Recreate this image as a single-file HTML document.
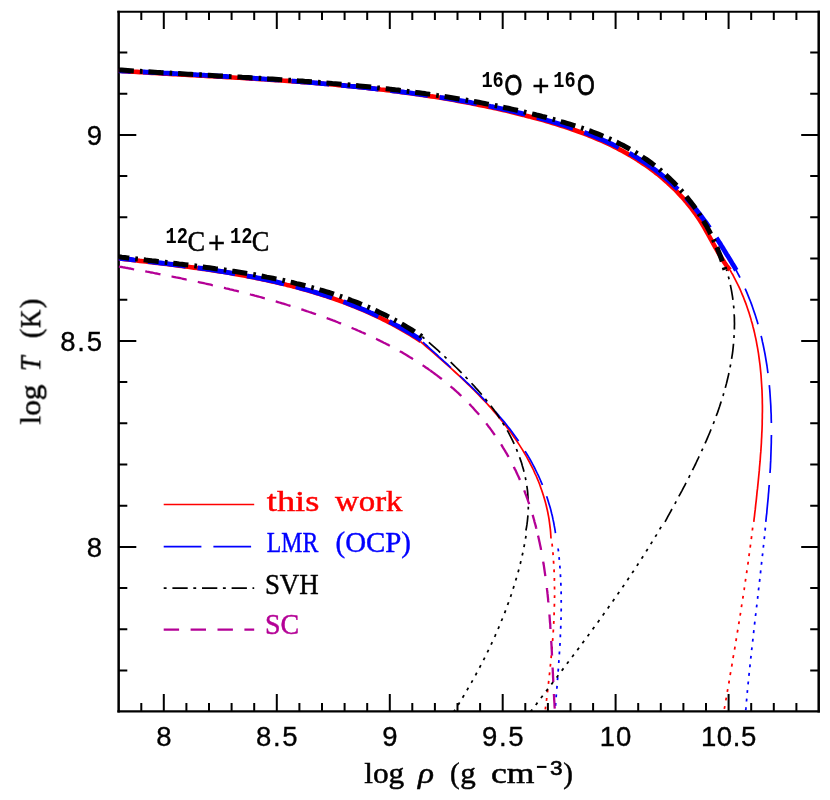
<!DOCTYPE html>
<html><head><meta charset="utf-8"><title>Ignition curves</title>
<style>
html,body{margin:0;padding:0;background:#fff;}
body{width:830px;height:800px;overflow:hidden;font-family:"Liberation Sans",sans-serif;}
svg{display:block;}
</style></head><body>
<svg width="830" height="800" viewBox="0 0 830 800">
<rect width="830" height="800" fill="#fff"/>
<g id="frame">
<path d="M118.65,10.75 V712.6 M818.7,10.75 V712.6" fill="none" stroke="#000" stroke-width="2.5"/>
<path d="M117.4,11.75 H819.95" fill="none" stroke="#000" stroke-width="2.0"/>
<path d="M117.4,711.45 H819.95" fill="none" stroke="#000" stroke-width="2.3"/>
<path d="M141.3,711.6 v-8.6 M141.3,11.5 v8.6 M163.8,711.6 v-17.6 M163.8,11.5 v17.6 M186.4,711.6 v-8.6 M186.4,11.5 v8.6 M209.0,711.6 v-8.6 M209.0,11.5 v8.6 M231.6,711.6 v-8.6 M231.6,11.5 v8.6 M254.2,711.6 v-8.6 M254.2,11.5 v8.6 M276.8,711.6 v-17.6 M276.8,11.5 v17.6 M299.4,711.6 v-8.6 M299.4,11.5 v8.6 M322.0,711.6 v-8.6 M322.0,11.5 v8.6 M344.6,711.6 v-8.6 M344.6,11.5 v8.6 M367.2,711.6 v-8.6 M367.2,11.5 v8.6 M389.8,711.6 v-17.6 M389.8,11.5 v17.6 M412.3,711.6 v-8.6 M412.3,11.5 v8.6 M434.9,711.6 v-8.6 M434.9,11.5 v8.6 M457.5,711.6 v-8.6 M457.5,11.5 v8.6 M480.1,711.6 v-8.6 M480.1,11.5 v8.6 M502.7,711.6 v-17.6 M502.7,11.5 v17.6 M525.3,711.6 v-8.6 M525.3,11.5 v8.6 M547.9,711.6 v-8.6 M547.9,11.5 v8.6 M570.5,711.6 v-8.6 M570.5,11.5 v8.6 M593.1,711.6 v-8.6 M593.1,11.5 v8.6 M615.6,711.6 v-17.6 M615.6,11.5 v17.6 M638.2,711.6 v-8.6 M638.2,11.5 v8.6 M660.8,711.6 v-8.6 M660.8,11.5 v8.6 M683.4,711.6 v-8.6 M683.4,11.5 v8.6 M706.0,711.6 v-8.6 M706.0,11.5 v8.6 M728.6,711.6 v-17.6 M728.6,11.5 v17.6 M751.2,711.6 v-8.6 M751.2,11.5 v8.6 M773.8,711.6 v-8.6 M773.8,11.5 v8.6 M796.4,711.6 v-8.6 M796.4,11.5 v8.6 M118.7,670.5 h8.6 M818.8,670.5 h-8.6 M118.7,629.3 h8.6 M818.8,629.3 h-8.6 M118.7,588.1 h8.6 M818.8,588.1 h-8.6 M118.7,546.9 h17.6 M818.8,546.9 h-17.6 M118.7,505.7 h8.6 M818.8,505.7 h-8.6 M118.7,464.5 h8.6 M818.8,464.5 h-8.6 M118.7,423.3 h8.6 M818.8,423.3 h-8.6 M118.7,382.1 h8.6 M818.8,382.1 h-8.6 M118.7,340.9 h17.6 M818.8,340.9 h-17.6 M118.7,299.7 h8.6 M818.8,299.7 h-8.6 M118.7,258.5 h8.6 M818.8,258.5 h-8.6 M118.7,217.3 h8.6 M818.8,217.3 h-8.6 M118.7,176.1 h8.6 M818.8,176.1 h-8.6 M118.7,134.9 h17.6 M818.8,134.9 h-17.6 M118.7,93.7 h8.6 M818.8,93.7 h-8.6 M118.7,52.5 h8.6 M818.8,52.5 h-8.6" fill="none" stroke="#000" stroke-width="2"/>
</g>
<g id="curves">
<path d="M118.9,258.5 L121.9,258.8 L124.8,259.2 L127.8,259.5 L130.8,259.8 L133.8,260.2 L136.8,260.5 L139.8,260.9 L142.8,261.2 L145.8,261.5 L148.8,261.9 L151.8,262.2 L154.8,262.6 L157.8,263.0 L160.8,263.3 L163.8,263.7 L166.8,264.0 L169.9,264.4 L172.9,264.8 L175.9,265.2 L178.9,265.6 L181.9,266.0 L184.9,266.4 L188.0,266.8 L191.0,267.2 L194.0,267.6 L197.0,268.0 L200.1,268.4 L203.1,268.9 L206.1,269.3 L209.1,269.8 L212.1,270.2 L215.2,270.7 L218.2,271.2 L221.2,271.6 L224.2,272.1 L227.2,272.6 L230.2,273.1 L233.2,273.7 L236.3,274.2 L239.3,274.7 L242.3,275.3 L245.3,275.8 L248.3,276.4 L251.3,277.0 L254.3,277.6 L257.3,278.2 L260.2,278.8 L263.2,279.4 L266.2,280.1 L269.2,280.7 L272.2,281.4 L275.1,282.0 L278.1,282.7 L281.1,283.4 L284.0,284.1 L287.0,284.9 L289.9,285.6 L292.9,286.4 L295.8,287.1 L298.8,287.9 L301.7,288.7 L304.6,289.6 L307.5,290.4 L310.5,291.2 L313.4,292.1 L316.3,293.0 L319.2,293.9 L322.1,294.8 L325.0,295.7 L327.8,296.7 L330.7,297.6 L333.6,298.6 L336.4,299.6 L339.3,300.6 L342.1,301.7 L345.0,302.7 L347.8,303.8 L350.6,304.9 L353.4,306.0 L356.2,307.2 L359.0,308.3 L361.8,309.5 L364.6,310.7 L367.4,311.9 L370.2,313.1 L372.9,314.4 L375.7,315.7 L378.4,317.0 L381.1,318.3 L383.9,319.7 L386.6,321.0 L389.3,322.4 L392.0,323.8 L394.6,325.3 L397.3,326.7 L400.0,328.2 L402.6,329.7 L405.3,331.2 L407.9,332.8 L410.5,334.4 L413.1,336.0 L415.7,337.6 L418.3,339.3 L420.9,341.0" fill="none" stroke="#ff0000" stroke-width="4.6" stroke-linecap="butt" stroke-linejoin="round"/>
<path d="M420.5,341.7 L422.8,343.6 L425.0,345.5 L427.3,347.5 L429.5,349.4 L431.8,351.4 L434.1,353.3 L436.3,355.3 L438.6,357.3 L440.9,359.3 L443.2,361.3 L445.4,363.3 L447.7,365.3 L450.0,367.4 L452.2,369.4 L454.5,371.5 L456.7,373.5 L459.0,375.6 L461.2,377.7 L463.4,379.8 L465.6,381.9 L467.8,384.1 L470.0,386.2 L472.2,388.4 L474.4,390.5 L476.5,392.7 L478.7,394.9 L480.8,397.1 L482.9,399.3 L485.0,401.5 L487.1,403.8 L489.2,406.1 L491.2,408.3 L493.2,410.6 L495.2,412.9 L497.2,415.3 L499.1,417.6 L501.1,419.9 L503.0,422.3 L504.9,424.7 L506.7,427.1 L508.6,429.5 L510.4,431.9 L512.2,434.4 L513.9,436.9 L515.6,439.3 L517.3,441.8 L519.0,444.4 L520.6,446.9 L522.2,449.4 L523.8,452.0 L525.3,454.6 L526.8,457.2 L528.2,459.8 L529.7,462.5 L531.0,465.1 L532.4,467.8 L533.7,470.5 L534.9,473.3 L536.2,476.0 L537.4,478.8 L538.5,481.5 L539.6,484.3 L540.6,487.2 L541.6,490.0 L542.6,492.9 L543.5,495.8 L544.4,498.7 L545.2,501.6 L546.0,504.5 L546.7,507.5 L547.4,510.5 L548.0,513.5 L548.6,516.6 L549.1,519.6 L549.5,522.7 L549.9,525.8 L550.3,529.0 L550.6,532.1 L550.8,535.3 L551.0,538.5" fill="none" stroke="#ff0000" stroke-width="1.7" stroke-linecap="butt" stroke-linejoin="round"/>
<path d="M551.4,538.0 L551.7,541.0 L552.1,544.1 L552.4,547.1 L552.7,550.2 L553.0,553.2 L553.2,556.2 L553.4,559.3 L553.6,562.3 L553.8,565.4 L554.0,568.4 L554.1,571.5 L554.3,574.5 L554.4,577.6 L554.4,580.6 L554.5,583.7 L554.5,586.7 L554.6,589.8 L554.6,592.8 L554.6,595.9 L554.5,598.9 L554.5,602.0 L554.4,605.0 L554.3,608.1 L554.2,611.1 L554.1,614.2 L554.0,617.3 L553.9,620.3 L553.7,623.4 L553.6,626.4 L553.4,629.5 L553.2,632.5 L553.0,635.6 L552.8,638.6 L552.5,641.7 L552.3,644.7 L552.0,647.8 L551.8,650.8 L551.5,653.8 L551.2,656.9 L550.9,659.9 L550.7,663.0 L550.3,666.0 L550.0,669.1 L549.7,672.1 L549.4,675.1 L549.1,678.2 L548.7,681.2 L548.4,684.2 L548.0,687.3 L547.7,690.3 L547.3,693.3 L546.9,696.4 L546.6,699.4 L546.2,702.4 L545.8,705.5 L545.4,708.5 L545.1,711.5" fill="none" stroke="#ff0000" stroke-width="1.75" stroke-dasharray="2.9 5.7" stroke-dashoffset="2.9" stroke-linecap="butt" stroke-linejoin="round"/>
<path d="M118.9,258.2 L121.8,258.6 L124.8,258.9 L127.8,259.2 L130.8,259.5 L133.8,259.9 L136.8,260.2 L139.8,260.5 L142.8,260.9 L145.8,261.2 L148.8,261.6 L151.8,261.9 L154.8,262.3 L157.8,262.6 L160.8,263.0 L163.9,263.4 L166.9,263.7 L169.9,264.1 L172.9,264.5 L175.9,264.8 L179.0,265.2 L182.0,265.6 L185.0,266.0 L188.0,266.4 L191.0,266.8 L194.1,267.2 L197.1,267.7 L200.1,268.1 L203.1,268.5 L206.1,269.0 L209.2,269.4 L212.2,269.9 L215.2,270.3 L218.2,270.8 L221.2,271.3 L224.3,271.8 L227.3,272.3 L230.3,272.8 L233.3,273.3 L236.3,273.8 L239.3,274.4 L242.3,274.9 L245.3,275.5 L248.3,276.1 L251.3,276.6 L254.3,277.2 L257.3,277.8 L260.3,278.4 L263.3,279.1 L266.2,279.7 L269.2,280.4 L272.2,281.0 L275.2,281.7 L278.1,282.4 L281.1,283.1 L284.1,283.8 L287.0,284.5 L290.0,285.3 L292.9,286.0 L295.9,286.8 L298.8,287.6 L301.7,288.4 L304.7,289.2 L307.6,290.0 L310.5,290.8 L313.4,291.7 L316.3,292.6 L319.2,293.5 L322.1,294.4 L325.0,295.3 L327.9,296.3 L330.8,297.2 L333.6,298.2 L336.5,299.2 L339.4,300.2 L342.2,301.2 L345.1,302.3 L347.9,303.3 L350.7,304.4 L353.5,305.5 L356.4,306.7 L359.2,307.8 L362.0,309.0 L364.8,310.1 L367.5,311.3 L370.3,312.6 L373.1,313.8 L375.8,315.1 L378.6,316.4 L381.3,317.7 L384.1,319.0 L386.8,320.3 L389.5,321.7 L392.2,323.1 L394.9,324.5 L397.6,326.0 L400.3,327.4 L402.9,328.9 L405.6,330.4 L408.2,332.0 L410.9,333.5 L413.5,335.1 L416.1,336.7 L418.7,338.3 L421.3,340.0" fill="none" stroke="#0000ff" stroke-width="4.8" stroke-dasharray="38 12" stroke-dashoffset="20.71" stroke-linecap="butt" stroke-linejoin="round"/>
<path d="M421.1,340.4 L423.3,342.4 L425.5,344.5 L427.8,346.5 L430.0,348.6 L432.2,350.6 L434.5,352.7 L436.8,354.7 L439.0,356.8 L441.3,358.8 L443.5,360.9 L445.8,362.9 L448.1,365.0 L450.3,367.1 L452.6,369.2 L454.9,371.2 L457.1,373.3 L459.4,375.4 L461.6,377.5 L463.9,379.7 L466.1,381.8 L468.4,383.9 L470.6,386.0 L472.8,388.2 L475.0,390.3 L477.2,392.5 L479.4,394.7 L481.5,396.9 L483.7,399.1 L485.8,401.3 L487.9,403.5 L490.0,405.8 L492.1,408.0 L494.2,410.3 L496.2,412.6 L498.2,414.9 L500.2,417.2 L502.2,419.6 L504.2,421.9 L506.1,424.3 L508.0,426.7 L509.9,429.1 L511.7,431.5 L513.5,434.0 L515.3,436.4 L517.1,438.9 L518.8,441.4 L520.5,444.0 L522.2,446.5 L523.8,449.1 L525.4,451.6 L527.0,454.2 L528.6,456.9 L530.1,459.5 L531.6,462.2 L533.0,464.8 L534.4,467.5 L535.8,470.3 L537.1,473.0 L538.4,475.7 L539.7,478.5 L540.9,481.3 L542.1,484.1 L543.2,487.0 L544.3,489.8 L545.4,492.7 L546.4,495.6 L547.4,498.5 L548.3,501.4 L549.2,504.4 L550.1,507.3 L550.9,510.3 L551.6,513.3 L552.4,516.3 L553.0,519.4 L553.7,522.5 L554.2,525.5 L554.8,528.6 L555.3,531.8 L555.7,534.9" fill="none" stroke="#0000ff" stroke-width="1.7" stroke-dasharray="38 12" stroke-dashoffset="47.5" stroke-linecap="butt" stroke-linejoin="round"/>
<path d="M558.1,548.5 L558.5,551.5 L558.8,554.6 L559.1,557.7 L559.4,560.7 L559.7,563.8 L559.9,566.9 L560.2,569.9 L560.4,573.0 L560.5,576.1 L560.7,579.2 L560.8,582.2 L560.9,585.3 L561.0,588.4 L561.1,591.5 L561.2,594.6 L561.2,597.6 L561.2,600.7 L561.2,603.8 L561.2,606.9 L561.2,610.0 L561.1,613.0 L561.1,616.1 L561.0,619.2 L560.9,622.3 L560.8,625.4 L560.7,628.5 L560.6,631.5 L560.4,634.6 L560.3,637.7 L560.1,640.8 L560.0,643.9 L559.8,646.9 L559.6,650.0 L559.4,653.1 L559.2,656.2 L559.0,659.3 L558.8,662.3 L558.6,665.4 L558.4,668.5 L558.1,671.6 L557.9,674.7 L557.7,677.7 L557.4,680.8 L557.2,683.9 L557.0,687.0 L556.7,690.0 L556.5,693.1 L556.2,696.2 L556.0,699.2 L555.8,702.3 L555.5,705.4 L555.3,708.4 L555.1,711.5" fill="none" stroke="#0000ff" stroke-width="1.75" stroke-dasharray="2.9 5.7" stroke-dashoffset="0" stroke-linecap="butt" stroke-linejoin="round"/>
<path d="M118.9,256.8 L121.9,257.2 L124.8,257.5 L127.8,257.9 L130.8,258.3 L133.8,258.6 L136.8,259.0 L139.8,259.3 L142.8,259.7 L145.8,260.1 L148.8,260.4 L151.8,260.8 L154.9,261.1 L157.9,261.5 L160.9,261.8 L163.9,262.2 L166.9,262.5 L170.0,262.9 L173.0,263.3 L176.0,263.6 L179.1,264.0 L182.1,264.3 L185.1,264.7 L188.2,265.1 L191.2,265.5 L194.2,265.8 L197.3,266.2 L200.3,266.6 L203.3,267.0 L206.4,267.4 L209.4,267.8 L212.4,268.2 L215.5,268.7 L218.5,269.1 L221.5,269.5 L224.6,269.9 L227.6,270.4 L230.6,270.9 L233.7,271.3 L236.7,271.8 L239.7,272.3 L242.7,272.8 L245.8,273.3 L248.8,273.8 L251.8,274.3 L254.8,274.8 L257.8,275.4 L260.8,275.9 L263.8,276.5 L266.8,277.1 L269.8,277.6 L272.8,278.2 L275.8,278.9 L278.8,279.5 L281.8,280.1 L284.8,280.8 L287.7,281.5 L290.7,282.1 L293.7,282.8 L296.6,283.6 L299.6,284.3 L302.5,285.0 L305.5,285.8 L308.4,286.6 L311.4,287.4 L314.3,288.2 L317.2,289.0 L320.1,289.9 L323.0,290.7 L325.9,291.6 L328.8,292.5 L331.7,293.4 L334.6,294.4 L337.5,295.3 L340.3,296.3 L343.2,297.3 L346.1,298.3 L348.9,299.4 L351.7,300.5 L354.6,301.5 L357.4,302.6 L360.2,303.8 L363.0,304.9 L365.8,306.1 L368.6,307.3 L371.4,308.5 L374.1,309.8 L376.9,311.1 L379.6,312.4 L382.4,313.7 L385.1,315.0 L387.8,316.4 L390.5,317.8 L393.2,319.2 L395.9,320.7 L398.6,322.2 L401.3,323.7 L403.9,325.2 L406.6,326.8 L409.2,328.4 L411.8,330.0 L414.4,331.6 L417.0,333.3 L419.6,335.0 L422.2,336.8" fill="none" stroke="#000000" stroke-width="5.0" stroke-dasharray="15.170 6.068 2.643 5.872" stroke-dashoffset="4.8" stroke-linecap="butt" stroke-linejoin="round"/>
<path d="M422.3,336.7 L424.6,338.7 L426.9,340.6 L429.2,342.6 L431.4,344.6 L433.7,346.6 L436.0,348.7 L438.3,350.7 L440.5,352.8 L442.8,354.8 L445.0,356.9 L447.3,359.0 L449.5,361.1 L451.7,363.2 L454.0,365.4 L456.2,367.5 L458.4,369.7 L460.6,371.9 L462.8,374.1 L464.9,376.3 L467.1,378.5 L469.2,380.8 L471.3,383.0 L473.5,385.3 L475.5,387.6 L477.6,389.9 L479.7,392.2 L481.7,394.5 L483.7,396.9 L485.7,399.3 L487.6,401.7 L489.5,404.1 L491.4,406.6 L493.3,409.0 L495.1,411.5 L496.9,414.0 L498.6,416.6 L500.3,419.1 L502.0,421.7 L503.6,424.3 L505.2,426.9 L506.8,429.6 L508.3,432.2 L509.7,434.9 L511.1,437.7 L512.5,440.4 L513.8,443.2 L515.1,445.9 L516.3,448.7 L517.4,451.6 L518.6,454.4 L519.6,457.3 L520.6,460.1 L521.6,463.0 L522.4,465.9 L523.3,468.9 L524.0,471.8 L524.7,474.8 L525.4,477.8 L526.0,480.8 L526.5,483.8 L527.0,486.8 L527.4,489.9 L527.7,492.9 L527.9,496.0 L528.1,499.1 L528.2,502.2 L528.3,505.3 L528.3,508.4 L528.2,511.5 L528.0,514.7 L527.7,517.8 L527.4,521.0 L527.0,524.2 L526.5,527.3 L525.9,530.5" fill="none" stroke="#000000" stroke-width="1.7" stroke-dasharray="15.3 5.6 2.9 5.8" stroke-dashoffset="21" stroke-linecap="butt" stroke-linejoin="round"/>
<path d="M526.9,530.2 L526.4,533.2 L525.9,536.3 L525.4,539.3 L524.9,542.3 L524.3,545.3 L523.7,548.3 L523.1,551.3 L522.5,554.3 L521.8,557.3 L521.1,560.3 L520.4,563.3 L519.6,566.2 L518.9,569.2 L518.1,572.2 L517.2,575.1 L516.4,578.1 L515.5,581.0 L514.7,584.0 L513.7,586.9 L512.8,589.8 L511.9,592.8 L510.9,595.7 L509.9,598.6 L508.9,601.5 L507.8,604.4 L506.8,607.3 L505.7,610.2 L504.6,613.1 L503.4,615.9 L502.3,618.8 L501.1,621.6 L500.0,624.5 L498.8,627.3 L497.6,630.2 L496.3,633.0 L495.1,635.8 L493.8,638.6 L492.5,641.5 L491.2,644.3 L489.9,647.0 L488.6,649.8 L487.2,652.6 L485.8,655.4 L484.5,658.1 L483.1,660.9 L481.6,663.6 L480.2,666.4 L478.8,669.1 L477.3,671.8 L475.9,674.5 L474.4,677.2 L472.9,679.9 L471.4,682.6 L469.8,685.3 L468.3,687.9 L466.8,690.6 L465.2,693.2 L463.7,695.8 L462.1,698.5 L460.5,701.1 L458.9,703.7 L457.3,706.3 L455.7,708.9 L454.0,711.4" fill="none" stroke="#000000" stroke-width="1.75" stroke-dasharray="2.9 5.7" stroke-dashoffset="2.9" stroke-linecap="butt" stroke-linejoin="round"/>
<path d="M118.9,266.5 L120.3,266.8 L121.7,267.0 L123.1,267.3 L124.5,267.5 L125.9,267.8 L127.3,268.0 L128.7,268.3 L130.1,268.5 L131.5,268.8 L132.9,269.1 L134.3,269.3 L135.7,269.6 L137.1,269.8 L138.5,270.1 L139.9,270.4 L141.3,270.6 L142.7,270.9 L144.1,271.1 L145.5,271.4 L146.9,271.7 L148.3,271.9 L149.7,272.2 L151.1,272.5 L152.5,272.7 L153.9,273.0 L155.2,273.3 L156.6,273.5 L158.0,273.8 L159.4,274.1 L160.8,274.3 L162.2,274.6 L163.6,274.9 L165.0,275.1 L166.4,275.4 L167.8,275.7 L169.2,276.0 L170.6,276.2 L171.9,276.5 L173.3,276.8 L174.7,277.1 L176.1,277.4 L177.5,277.6 L178.9,277.9 L180.3,278.2 L181.7,278.5 L183.0,278.8 L184.4,279.1 L185.8,279.4 L187.2,279.6 L188.6,279.9 L190.0,280.2 L191.4,280.5 L192.7,280.8 L194.1,281.1 L195.5,281.4 L196.9,281.7 L198.3,282.0 L199.6,282.3 L201.0,282.6 L202.4,282.9 L203.8,283.2 L205.2,283.5 L206.6,283.8 L207.9,284.1 L209.3,284.4 L210.7,284.7 L212.1,285.1 L213.4,285.4 L214.8,285.7 L216.2,286.0 L217.6,286.3 L219.0,286.6 L220.3,287.0 L221.7,287.3 L223.1,287.6 L224.5,287.9 L225.8,288.3 L227.2,288.6 L228.6,288.9 L230.0,289.3 L231.3,289.6 L232.7,289.9 L234.1,290.3 L235.5,290.6 L236.8,290.9 L238.2,291.3 L239.6,291.6 L241.0,292.0 L242.3,292.3 L243.7,292.7 L245.1,293.0 L246.4,293.4 L247.8,293.7 L249.2,294.1 L250.6,294.5 L251.9,294.8 L253.3,295.2 L254.7,295.6 L256.0,295.9 L257.4,296.3 L258.8,296.7 L260.1,297.0 L261.5,297.4 L262.9,297.8 L264.2,298.2 L265.6,298.5 L267.0,298.9 L268.4,299.3 L269.7,299.7 L271.1,300.1 L272.5,300.5 L273.8,300.9 L275.2,301.3 L276.6,301.7 L277.9,302.1 L279.3,302.5 L280.7,302.9 L282.0,303.3 L283.4,303.7 L284.8,304.1 L286.1,304.5 L287.5,305.0 L288.8,305.4 L290.2,305.8 L291.6,306.2 L292.9,306.7 L294.3,307.1 L295.7,307.5 L297.0,308.0 L298.4,308.4 L299.8,308.8 L301.1,309.3 L302.5,309.7 L303.9,310.2 L305.2,310.6 L306.6,311.1 L307.9,311.5 L309.3,312.0 L310.7,312.4 L312.0,312.9 L313.4,313.4 L314.8,313.8 L316.1,314.3 L317.5,314.8 L318.8,315.3 L320.2,315.7 L321.5,316.2 L322.9,316.7 L324.3,317.2 L325.6,317.7 L327.0,318.2 L328.3,318.7 L329.7,319.2 L331.0,319.7 L332.4,320.2 L333.7,320.7 L335.1,321.2 L336.4,321.7 L337.8,322.3 L339.1,322.8 L340.5,323.3 L341.8,323.8 L343.1,324.4 L344.5,324.9 L345.8,325.5 L347.2,326.0 L348.5,326.5 L349.8,327.1 L351.2,327.7 L352.5,328.2 L353.8,328.8 L355.1,329.3 L356.5,329.9 L357.8,330.5 L359.1,331.0 L360.4,331.6 L361.7,332.2 L363.1,332.8 L364.4,333.4 L365.7,334.0 L367.0,334.6 L368.3,335.2 L369.6,335.8 L370.9,336.4 L372.2,337.0 L373.5,337.6 L374.8,338.2 L376.1,338.8 L377.4,339.5 L378.7,340.1 L380.0,340.7 L381.3,341.4 L382.5,342.0 L383.8,342.7 L385.1,343.3 L386.4,344.0 L387.7,344.6 L388.9,345.3 L390.2,346.0 L391.5,346.6 L392.7,347.3 L394.0,348.0 L395.2,348.7 L396.5,349.3 L397.7,350.0 L399.0,350.7 L400.2,351.4 L401.5,352.1 L402.7,352.8 L403.9,353.6 L405.2,354.3 L406.4,355.0 L407.6,355.7 L408.8,356.5 L410.0,357.2 L411.3,357.9 L412.5,358.7 L413.7,359.4 L414.9,360.2 L416.1,360.9 L417.3,361.7 L418.5,362.5 L419.6,363.2 L420.8,364.0 L422.0,364.8 L423.2,365.6 L424.4,366.4 L425.5,367.2 L426.7,368.0 L427.9,368.8 L429.0,369.6 L430.2,370.4" fill="none" stroke="#b40096" stroke-width="2.3" stroke-dasharray="15.5 11.3" stroke-dashoffset="0"/>
<path d="M430.2,370.4 L431.3,371.2 L432.5,372.1 L433.6,372.9 L434.7,373.7 L435.9,374.6 L437.0,375.4 L438.1,376.3 L439.2,377.1 L440.3,378.0 L441.5,378.8 L442.6,379.7 L443.7,380.6 L444.8,381.5 L445.9,382.4 L446.9,383.2 L448.0,384.1 L449.1,385.0 L450.2,386.0 L451.2,386.9 L452.3,387.8 L453.4,388.7 L454.4,389.6 L455.5,390.6 L456.5,391.5 L457.5,392.5 L458.6,393.4 L459.6,394.4 L460.6,395.3 L461.6,396.3 L462.7,397.3 L463.7,398.2 L464.7,399.2 L465.7,400.2 L466.6,401.2 L467.6,402.2 L468.6,403.2 L469.6,404.2 L470.6,405.3 L471.5,406.3 L472.5,407.3 L473.4,408.3 L474.4,409.4 L475.3,410.4 L476.2,411.5 L477.2,412.5 L478.1,413.6 L479.0,414.6 L479.9,415.7 L480.8,416.8 L481.7,417.9 L482.6,418.9 L483.5,420.0 L484.4,421.1 L485.3,422.2 L486.2,423.3 L487.0,424.4 L487.9,425.6 L488.7,426.7 L489.6,427.8 L490.4,428.9 L491.3,430.1 L492.1,431.2 L492.9,432.3 L493.7,433.5 L494.5,434.6 L495.3,435.8 L496.1,436.9 L496.9,438.1 L497.7,439.3 L498.5,440.4 L499.3,441.6 L500.0,442.8 L500.8,444.0 L501.6,445.2 L502.3,446.4 L503.0,447.6 L503.8,448.8 L504.5,450.0 L505.2,451.2 L505.9,452.4 L506.7,453.6 L507.4,454.9 L508.1,456.1 L508.7,457.3 L509.4,458.5 L510.1,459.8 L510.8,461.0 L511.4,462.3 L512.1,463.5 L512.7,464.8 L513.4,466.0 L514.0,467.3 L514.6,468.6 L515.3,469.8 L515.9,471.1 L516.5,472.4 L517.1,473.7 L517.7,475.0 L518.3,476.2 L518.9,477.5 L519.4,478.8 L520.0,480.1 L520.6,481.4 L521.1,482.7 L521.7,484.0 L522.2,485.3 L522.7,486.7 L523.3,488.0 L523.8,489.3 L524.3,490.6 L524.8,491.9 L525.3,493.3 L525.8,494.6 L526.3,495.9 L526.8,497.3 L527.3,498.6 L527.8,500.0 L528.2,501.3 L528.7,502.6 L529.1,504.0 L529.6,505.3 L530.0,506.7 L530.5,508.1 L530.9,509.4 L531.3,510.8 L531.8,512.1 L532.2,513.5 L532.6,514.9 L533.0,516.2 L533.4,517.6 L533.8,519.0 L534.2,520.4 L534.5,521.7 L534.9,523.1 L535.3,524.5 L535.7,525.9 L536.0,527.3 L536.4,528.7 L536.7,530.0 L537.1,531.4 L537.4,532.8 L537.7,534.2" fill="none" stroke="#b40096" stroke-width="2.3" stroke-dasharray="14.5 11.3" stroke-dashoffset="0"/>
<path d="M538.0,535.6 L538.4,537.0 L538.7,538.4 L539.0,539.8 L539.3,541.2 L539.6,542.6 L539.9,544.0 L540.2,545.4 L540.5,546.8 L540.8,548.2 L541.0,549.6 L541.3,551.0 L541.6,552.5 L541.8,553.9 L542.1,555.3 L542.3,556.7 L542.6,558.1 L542.8,559.5 L543.1,560.9 L543.3,562.4 L543.5,563.8 L543.8,565.2 L544.0,566.6 L544.2,568.0 L544.4,569.5 L544.6,570.9 L544.8,572.3 L545.0,573.7 L545.2,575.1 L545.4,576.6 L545.6,578.0 L545.8,579.4 L546.0,580.8 L546.2,582.3 L546.4,583.7 L546.5,585.1 L546.7,586.6 L546.9,588.0 L547.0,589.4 L547.2,590.8 L547.4,592.3 L547.5,593.7 L547.7,595.1 L547.8,596.6 L548.0,598.0 L548.1,599.4 L548.2,600.9 L548.4,602.3 L548.5,603.7 L548.7,605.2 L548.8,606.6 L548.9,608.0 L549.0,609.4 L549.2,610.9 L549.3,612.3 L549.4,613.7 L549.5,615.2 L549.6,616.6 L549.7,618.0 L549.8,619.5 L549.9,620.9 L550.0,622.3 L550.2,623.8 L550.3,625.2 L550.3,626.6 L550.4,628.1 L550.5,629.5 L550.6,630.9 L550.7,632.3 L550.8,633.8 L550.9,635.2 L551.0,636.6 L551.1,638.0 L551.2,639.5 L551.2,640.9 L551.3,642.3 L551.4,643.7 L551.5,645.2 L551.6,646.6 L551.6,648.0 L551.7,649.4 L551.8,650.8 L551.9,652.3 L551.9,653.7 L552.0,655.1 L552.1,656.5 L552.1,657.9 L552.2,659.3 L552.3,660.8 L552.4,662.2 L552.4,663.6 L552.5,665.0 L552.6,666.4 L552.6,667.8 L552.7,669.2 L552.8,670.6 L552.8,672.0 L552.9,673.4 L553.0,674.8 L553.0,676.2 L553.1,677.6 L553.2,679.0 L553.2,680.4 L553.3,681.8 L553.4,683.2 L553.4,684.6 L553.5,686.0 L553.6,687.4 L553.6,688.8 L553.7,690.2 L553.8,691.5 L553.9,692.9 L553.9,694.3 L554.0,695.7 L554.1,697.1 L554.1,698.4 L554.2,699.8 L554.3,701.2 L554.4,702.6 L554.5,703.9 L554.5,705.3 L554.6,706.7 L554.7,708.0 L554.8,709.4 L554.9,710.7" fill="none" stroke="#b40096" stroke-width="2.3" stroke-dasharray="14.6 12" stroke-dashoffset="0"/>
<path d="M118.7,70.8 L121.7,71.0 L124.7,71.2 L127.7,71.4 L130.8,71.6 L133.8,71.8 L136.8,71.9 L139.8,72.1 L142.8,72.3 L145.8,72.5 L148.8,72.7 L151.8,72.9 L154.9,73.0 L157.9,73.2 L160.9,73.4 L163.9,73.6 L166.9,73.7 L169.9,73.9 L172.9,74.1 L176.0,74.2 L179.0,74.4 L182.0,74.6 L185.0,74.8 L188.0,74.9 L191.0,75.1 L194.1,75.3 L197.1,75.4 L200.1,75.6 L203.1,75.8 L206.1,75.9 L209.2,76.1 L212.2,76.3 L215.2,76.5 L218.2,76.6 L221.2,76.8 L224.2,77.0 L227.3,77.1 L230.3,77.3 L233.3,77.5 L236.3,77.7 L239.3,77.8 L242.3,78.0 L245.4,78.2 L248.4,78.4 L251.4,78.6 L254.4,78.8 L257.4,78.9 L260.4,79.1 L263.5,79.3 L266.5,79.5 L269.5,79.7 L272.5,79.9 L275.5,80.1 L278.5,80.3 L281.6,80.5 L284.6,80.7 L287.6,80.9 L290.6,81.2 L293.6,81.4 L296.6,81.6 L299.6,81.8 L302.6,82.1 L305.7,82.3 L308.7,82.5 L311.7,82.8 L314.7,83.0 L317.7,83.2 L320.7,83.5 L323.7,83.8 L326.7,84.0 L329.7,84.3 L332.7,84.5 L335.7,84.8 L338.7,85.1 L341.8,85.4 L344.8,85.6 L347.8,85.9 L350.8,86.2 L353.8,86.5 L356.8,86.8 L359.8,87.1 L362.8,87.5 L365.8,87.8 L368.8,88.1 L371.8,88.4 L374.8,88.8 L377.8,89.1 L380.8,89.5 L383.8,89.8 L386.7,90.2 L389.7,90.5 L392.7,90.9 L395.7,91.3 L398.7,91.7 L401.7,92.1 L404.7,92.5 L407.7,92.9 L410.7,93.3 L413.6,93.7 L416.6,94.1 L419.6,94.6 L422.6,95.0 L425.6,95.4 L428.6,95.9 L431.5,96.4 L434.5,96.8 L437.5,97.3 L440.5,97.8 L443.4,98.3 L446.4,98.8 L449.4,99.3 L452.4,99.8 L455.3,100.3 L458.3,100.9 L461.3,101.4 L464.2,102.0 L467.2,102.5 L470.2,103.1 L473.1,103.7 L476.1,104.3 L479.1,104.9 L482.0,105.5 L485.0,106.1 L487.9,106.7 L490.9,107.3 L493.8,108.0 L496.8,108.6 L499.7,109.3 L502.7,110.0 L505.6,110.6 L508.6,111.3 L511.5,112.0 L514.5,112.7 L517.4,113.5 L520.3,114.2 L523.3,114.9 L526.2,115.7 L529.1,116.4 L532.1,117.2 L535.0,118.0 L537.9,118.8 L540.9,119.6 L543.8,120.4 L546.7,121.3 L549.6,122.1 L552.5,123.0 L555.4,123.9 L558.3,124.8 L561.2,125.7 L564.1,126.6 L567.0,127.6 L569.9,128.5 L572.7,129.5 L575.6,130.5 L578.4,131.5 L581.3,132.6 L584.1,133.6 L586.9,134.7 L589.7,135.8 L592.5,136.9 L595.3,138.1 L598.1,139.3 L600.9,140.5 L603.6,141.7 L606.4,143.0 L609.1,144.2 L611.8,145.5 L614.5,146.9 L617.2,148.2 L619.8,149.6 L622.5,151.0 L625.1,152.5 L627.7,153.9 L630.3,155.4 L632.9,157.0 L635.5,158.5 L638.0,160.2 L640.5,161.8 L643.0,163.5 L645.5,165.2 L648.0,166.9 L650.4,168.6 L652.8,170.4 L655.2,172.3 L657.6,174.1 L659.9,176.0 L662.3,178.0 L664.5,179.9 L666.8,181.9 L669.0,184.0 L671.2,186.0 L673.4,188.1 L675.6,190.2 L677.7,192.4 L679.7,194.6 L681.8,196.8 L683.8,199.1 L685.8,201.4 L687.7,203.7 L689.6,206.0 L691.5,208.4 L693.3,210.9 L695.1,213.3 L696.8,215.8 L698.5,218.3 L700.2,220.8 L701.8,223.4 L703.4,226.0 L704.9,228.7 L706.4,231.3 L707.9,234.0 L709.4,236.6 L710.9,239.3 L712.3,242.0 L713.8,244.7 L715.3,247.3 L716.8,250.0 L718.3,252.6 L719.8,255.2 L721.4,257.8 L723.0,260.3 L724.6,262.8 L726.3,265.3 L728.1,267.7 L729.9,270.0" fill="none" stroke="#ff0000" stroke-width="4.6" stroke-linecap="butt" stroke-linejoin="round"/>
<path d="M730.0,269.8 L731.5,272.6 L733.1,275.3 L734.5,278.1 L735.9,280.8 L737.3,283.6 L738.7,286.4 L740.0,289.2 L741.2,292.0 L742.4,294.9 L743.6,297.7 L744.7,300.6 L745.8,303.4 L746.8,306.3 L747.8,309.2 L748.8,312.1 L749.7,315.0 L750.6,317.9 L751.4,320.9 L752.3,323.8 L753.0,326.7 L753.8,329.7 L754.5,332.7 L755.1,335.6 L755.8,338.6 L756.4,341.6 L756.9,344.6 L757.5,347.6 L758.0,350.6 L758.5,353.6 L758.9,356.6 L759.3,359.7 L759.7,362.7 L760.1,365.7 L760.4,368.8 L760.7,371.8 L761.0,374.9 L761.2,377.9 L761.4,381.0 L761.6,384.0 L761.8,387.1 L762.0,390.2 L762.1,393.3 L762.2,396.3 L762.3,399.4 L762.3,402.5 L762.4,405.6 L762.4,408.7 L762.4,411.8 L762.3,414.8 L762.3,417.9 L762.2,421.0 L762.2,424.1 L762.1,427.2 L762.0,430.3 L761.8,433.4 L761.7,436.5 L761.5,439.6 L761.4,442.7 L761.2,445.8 L761.0,448.8 L760.8,451.9 L760.5,455.0 L760.3,458.1 L760.1,461.2 L759.8,464.2 L759.5,467.3 L759.3,470.4 L759.0,473.5 L758.7,476.5 L758.4,479.6 L758.1,482.6 L757.8,485.7 L757.5,488.7 L757.1,491.7 L756.8,494.8 L756.5,497.8 L756.2,500.8 L755.8,503.8 L755.5,506.9 L755.2,509.9 L754.8,512.8 L754.5,515.8 L754.1,518.8 L753.8,521.8" fill="none" stroke="#ff0000" stroke-width="1.7" stroke-linecap="butt" stroke-linejoin="round"/>
<path d="M753.4,522.0 L753.0,525.0 L752.6,528.1 L752.3,531.2 L751.9,534.3 L751.5,537.3 L751.1,540.4 L750.7,543.5 L750.3,546.5 L749.9,549.6 L749.5,552.7 L749.0,555.7 L748.6,558.8 L748.2,561.8 L747.8,564.9 L747.3,568.0 L746.9,571.0 L746.4,574.1 L746.0,577.2 L745.5,580.2 L745.1,583.3 L744.6,586.3 L744.2,589.4 L743.7,592.5 L743.2,595.5 L742.8,598.6 L742.3,601.6 L741.8,604.7 L741.3,607.7 L740.9,610.8 L740.4,613.9 L739.9,616.9 L739.4,620.0 L738.9,623.0 L738.4,626.1 L737.9,629.1 L737.4,632.2 L736.9,635.2 L736.4,638.3 L735.9,641.3 L735.4,644.4 L734.9,647.4 L734.4,650.5 L733.9,653.5 L733.3,656.6 L732.8,659.6 L732.3,662.7 L731.8,665.8 L731.3,668.8 L730.7,671.9 L730.2,674.9 L729.7,677.9 L729.2,681.0 L728.7,684.0 L728.1,687.1 L727.6,690.1 L727.1,693.2 L726.6,696.2 L726.0,699.3 L725.5,702.3 L725.0,705.4 L724.4,708.4 L723.9,711.5" fill="none" stroke="#ff0000" stroke-width="1.75" stroke-dasharray="2.9 5.7" stroke-dashoffset="2.9" stroke-linecap="butt" stroke-linejoin="round"/>
<path d="M118.8,70.8 L120.5,70.9 L122.2,71.0 L123.9,71.0 L125.6,71.1 L127.3,71.2 L129.0,71.3 L130.7,71.4 L132.4,71.5 L134.1,71.5 L135.8,71.6 L137.5,71.7 L139.2,71.8 L140.9,71.9 L142.6,72.0 L144.3,72.0 L146.0,72.1 L147.7,72.2 L149.4,72.3 L151.1,72.4 L152.8,72.5 L154.5,72.5 L156.2,72.6 L157.9,72.7 L159.6,72.8 L161.3,72.9 L163.0,73.0 L164.7,73.1 L166.4,73.2 L168.1,73.2 L169.8,73.3 L171.5,73.4 L173.2,73.5 L174.9,73.6 L176.6,73.7 L178.3,73.8 L180.0,73.9 L181.7,74.0 L183.5,74.0 L185.2,74.1 L186.9,74.2 L188.6,74.3 L190.3,74.4 L192.0,74.5 L193.7,74.6 L195.4,74.7 L197.1,74.8 L198.8,74.9 L200.5,75.0 L202.2,75.1 L203.9,75.2 L205.6,75.3 L207.4,75.4 L209.1,75.5 L210.8,75.6 L212.5,75.7 L214.2,75.8 L215.9,75.9 L217.6,76.0 L219.3,76.1 L221.0,76.2 L222.7,76.3 L224.4,76.4 L226.1,76.5 L227.9,76.6 L229.6,76.7 L231.3,76.8 L233.0,76.9 L234.7,77.0 L236.4,77.1 L238.1,77.2 L239.8,77.3 L241.5,77.4 L243.2,77.6 L244.9,77.7 L246.6,77.8 L248.4,77.9 L250.1,78.0 L251.8,78.1 L253.5,78.2 L255.2,78.4 L256.9,78.5 L258.6,78.6 L260.3,78.7 L262.0,78.8 L263.7,78.9 L265.4,79.1 L267.1,79.2 L268.8,79.3 L270.6,79.4 L272.3,79.5 L274.0,79.7 L275.7,79.8 L277.4,79.9 L279.1,80.0 L280.8,80.2 L282.5,80.3 L284.2,80.4 L285.9,80.6 L287.6,80.7 L289.3,80.8 L291.0,80.9 L292.7,81.1 L294.5,81.2 L296.2,81.3 L297.9,81.5 L299.6,81.6 L301.3,81.8 L303.0,81.9 L304.7,82.0 L306.4,82.2 L308.1,82.3 L309.8,82.5 L311.5,82.6 L313.2,82.7 L314.9,82.9 L316.6,83.0 L318.3,83.2 L320.0,83.3 L321.7,83.5 L323.4,83.6 L325.1,83.8 L326.8,83.9 L328.5,84.1 L330.2,84.2 L331.9,84.4 L333.6,84.5 L335.3,84.7 L337.0,84.9 L338.7,85.0 L340.4,85.2 L342.1,85.3 L343.8,85.5 L345.5,85.7 L347.2,85.8 L348.9,86.0 L350.6,86.2 L352.3,86.3 L354.0,86.5 L355.7,86.7 L357.4,86.9 L359.1,87.0 L360.8,87.2 L362.5,87.4 L364.2,87.6 L365.9,87.7 L367.6,87.9 L369.3,88.1 L371.0,88.3 L372.7,88.5 L374.4,88.6 L376.1,88.8 L377.8,89.0 L379.5,89.2 L381.2,89.4 L382.9,89.6 L384.6,89.8 L386.3,90.0 L387.9,90.2 L389.6,90.4 L391.3,90.6 L393.0,90.8 L394.7,91.0 L396.4,91.2 L398.1,91.4 L399.8,91.6 L401.5,91.8 L403.2,92.0 L404.9,92.3 L406.5,92.5 L408.2,92.7 L409.9,92.9 L411.6,93.1 L413.3,93.4 L415.0,93.6 L416.7,93.8 L418.4,94.1 L420.0,94.3 L421.7,94.5 L423.4,94.8 L425.1,95.0 L426.8,95.3 L428.5,95.5 L430.2,95.7 L431.8,96.0 L433.5,96.2 L435.2,96.5 L436.9,96.8 L438.6,97.0 L440.3,97.3 L441.9,97.5 L443.6,97.8 L445.3,98.1 L447.0,98.4 L448.7,98.6 L450.3,98.9 L452.0,99.2 L453.7,99.5 L455.4,99.8 L457.1,100.0 L458.7,100.3 L460.4,100.6 L462.1,100.9 L463.8,101.2 L465.5,101.5 L467.1,101.8 L468.8,102.1 L470.5,102.4 L472.2,102.8 L473.8,103.1 L475.5,103.4 L477.2,103.7 L478.9,104.0 L480.5,104.4 L482.2,104.7 L483.9,105.0 L485.6,105.4 L487.2,105.7 L488.9,106.0 L490.6,106.4 L492.2,106.7 L493.9,107.1 L495.6,107.5 L497.3,107.8 L498.9,108.2 L500.6,108.5 L502.3,108.9 L503.9,109.3 L505.6,109.7 L507.3,110.0 L508.9,110.4 L510.6,110.8 L512.3,111.2 L513.9,111.6 L515.6,112.0 L517.3,112.4 L518.9,112.8 L520.6,113.2 L522.3,113.6 L523.9,114.0 L525.6,114.5 L527.3,114.9 L528.9,115.3 L530.6,115.7 L532.3,116.2 L533.9,116.6 L535.6,117.0 L537.2,117.5 L538.9,117.9 L540.6,118.4 L542.2,118.9 L543.9,119.3 L545.5,119.8 L547.2,120.3 L548.8,120.7 L550.5,121.2 L552.2,121.7 L553.8,122.2 L555.4,122.7 L557.1,123.2 L558.7,123.7 L560.4,124.2 L562.0,124.7 L563.7,125.3 L565.3,125.8 L566.9,126.3 L568.6,126.9 L570.2,127.4 L571.8,128.0 L573.5,128.5 L575.1,129.1 L576.7,129.6 L578.3,130.2 L579.9,130.8 L581.5,131.4 L583.1,132.0 L584.8,132.6 L586.4,133.2 L588.0,133.8 L589.5,134.4 L591.1,135.1 L592.7,135.7 L594.3,136.4 L595.9,137.0 L597.5,137.7 L599.0,138.3 L600.6,139.0 L602.2,139.7 L603.7,140.4 L605.3,141.1 L606.9,141.8 L608.4,142.5 L609.9,143.2 L611.5,143.9 L613.0,144.7 L614.6,145.4 L616.1,146.2 L617.6,146.9 L619.1,147.7 L620.6,148.5 L622.1,149.2 L623.6,150.0 L625.1,150.8 L626.6,151.7 L628.1,152.5 L629.6,153.3 L631.1,154.1 L632.5,155.0 L634.0,155.8 L635.4,156.7 L636.9,157.6 L638.3,158.5 L639.8,159.4 L641.2,160.3 L642.6,161.2 L644.0,162.1 L645.5,163.1 L646.9,164.0 L648.3,165.0 L649.7,165.9 L651.0,166.9" fill="none" stroke="#0000ff" stroke-width="4.8" stroke-dasharray="37.7 12" stroke-dashoffset="25.7"/>
<path d="M651.0,166.9 L652.4,167.9 L653.8,168.9 L655.2,169.9 L656.5,170.9 L657.9,171.9 L659.2,173.0 L660.5,174.0 L661.9,175.1 L663.2,176.1 L664.5,177.2 L665.8,178.3 L667.1,179.4 L668.4,180.5 L669.6,181.6 L670.9,182.8 L672.2,183.9 L673.4,185.0 L674.6,186.2 L675.9,187.4 L677.1,188.6 L678.3,189.8 L679.5,191.0 L680.7,192.2 L681.9,193.4 L683.1,194.6 L684.2,195.9 L685.4,197.1 L686.5,198.4 L687.7,199.6 L688.8,200.9 L689.9,202.2 L691.1,203.5 L692.2,204.8 L693.3,206.1 L694.4,207.5 L695.4,208.8 L696.5,210.1 L697.6,211.5 L698.6,212.8 L699.7,214.2 L700.7,215.5 L701.8,216.9 L702.8,218.3 L703.8,219.7 L704.9,221.1 L705.9,222.5 L706.9,223.9 L707.9,225.3 L708.8,226.7 L709.8,228.1 L710.8,229.5 L711.8,231.0 L712.7,232.4 L713.7,233.8 L714.7,235.3 L715.6,236.7 L716.5,238.1 L717.5,239.6 L718.4,241.0 L719.3,242.5 L720.3,243.9 L721.2,245.4 L722.1,246.9 L723.0,248.3 L723.9,249.8 L724.8,251.2 L725.7,252.7 L726.6,254.2 L727.5,255.6 L728.4,257.1 L729.3,258.5 L730.2,260.0 L731.1,261.5 L731.9,262.9 L732.8,264.4 L733.7,265.8 L734.6,267.3 L735.4,268.7 L736.3,270.2" fill="none" stroke="#0000ff" stroke-width="4.8" stroke-dasharray="38 12" stroke-dashoffset="2.87"/>
<path d="M736.0,270.0 L737.5,272.8 L738.9,275.5 L740.3,278.3 L741.7,281.1 L743.0,283.9 L744.3,286.8 L745.6,289.6 L746.8,292.4 L748.0,295.3 L749.1,298.1 L750.3,301.0 L751.4,303.9 L752.4,306.8 L753.4,309.7 L754.4,312.6 L755.4,315.5 L756.3,318.4 L757.2,321.3 L758.0,324.3 L758.9,327.2 L759.6,330.1 L760.4,333.1 L761.2,336.1 L761.9,339.0 L762.5,342.0 L763.2,345.0 L763.8,348.0 L764.4,351.0 L765.0,354.0 L765.5,357.0 L766.0,360.0 L766.5,363.0 L767.0,366.0 L767.4,369.0 L767.8,372.0 L768.2,375.1 L768.5,378.1 L768.9,381.2 L769.2,384.2 L769.5,387.2 L769.8,390.3 L770.0,393.3 L770.2,396.4 L770.4,399.5 L770.6,402.5 L770.8,405.6 L770.9,408.6 L771.0,411.7 L771.2,414.8 L771.2,417.9 L771.3,420.9 L771.4,424.0 L771.4,427.1 L771.4,430.2 L771.4,433.2 L771.4,436.3 L771.3,439.4 L771.3,442.5 L771.2,445.5 L771.1,448.6 L771.0,451.7 L770.9,454.8 L770.8,457.8 L770.7,460.9 L770.5,464.0 L770.4,467.1 L770.2,470.1 L770.0,473.2 L769.8,476.3 L769.6,479.3 L769.4,482.4 L769.2,485.4 L768.9,488.5 L768.7,491.6 L768.4,494.6 L768.2,497.6 L767.9,500.7 L767.6,503.7 L767.3,506.8 L767.0,509.8 L766.8,512.8 L766.4,515.8 L766.1,518.9 L765.8,521.9" fill="none" stroke="#0000ff" stroke-width="1.7" stroke-dasharray="38 12" stroke-dashoffset="29.3" stroke-linecap="butt" stroke-linejoin="round"/>
<path d="M766.0,522.0 L765.7,525.1 L765.3,528.1 L765.0,531.2 L764.7,534.2 L764.4,537.3 L764.1,540.3 L763.8,543.4 L763.4,546.5 L763.1,549.5 L762.8,552.6 L762.4,555.6 L762.1,558.7 L761.7,561.7 L761.4,564.8 L761.1,567.8 L760.7,570.9 L760.4,573.9 L760.0,577.0 L759.7,580.1 L759.3,583.1 L759.0,586.2 L758.6,589.2 L758.3,592.3 L757.9,595.3 L757.6,598.4 L757.2,601.4 L756.9,604.5 L756.5,607.5 L756.1,610.6 L755.8,613.7 L755.4,616.7 L755.1,619.8 L754.7,622.8 L754.4,625.9 L754.0,628.9 L753.7,632.0 L753.3,635.0 L753.0,638.1 L752.7,641.1 L752.3,644.2 L752.0,647.3 L751.6,650.3 L751.3,653.4 L751.0,656.4 L750.6,659.5 L750.3,662.5 L750.0,665.6 L749.7,668.7 L749.4,671.7 L749.0,674.8 L748.7,677.8 L748.4,680.9 L748.1,683.9 L747.8,687.0 L747.5,690.1 L747.2,693.1 L747.0,696.2 L746.7,699.2 L746.4,702.3 L746.1,705.4 L745.9,708.4 L745.6,711.5" fill="none" stroke="#0000ff" stroke-width="1.75" stroke-dasharray="2.9 5.7" stroke-dashoffset="2.9" stroke-linecap="butt" stroke-linejoin="round"/>
<path d="M118.7,69.9 L121.7,70.1 L124.7,70.3 L127.7,70.5 L130.7,70.7 L133.7,70.9 L136.8,71.1 L139.8,71.3 L142.8,71.5 L145.8,71.6 L148.8,71.8 L151.8,72.0 L154.8,72.2 L157.8,72.4 L160.8,72.6 L163.8,72.7 L166.9,72.9 L169.9,73.1 L172.9,73.3 L175.9,73.5 L178.9,73.6 L181.9,73.8 L184.9,74.0 L187.9,74.2 L191.0,74.3 L194.0,74.5 L197.0,74.7 L200.0,74.8 L203.0,75.0 L206.0,75.2 L209.0,75.3 L212.0,75.5 L215.1,75.7 L218.1,75.9 L221.1,76.0 L224.1,76.2 L227.1,76.4 L230.1,76.6 L233.1,76.7 L236.1,76.9 L239.2,77.1 L242.2,77.3 L245.2,77.4 L248.2,77.6 L251.2,77.8 L254.2,78.0 L257.2,78.2 L260.2,78.3 L263.2,78.5 L266.3,78.7 L269.3,78.9 L272.3,79.1 L275.3,79.3 L278.3,79.5 L281.3,79.7 L284.3,79.9 L287.3,80.1 L290.3,80.3 L293.3,80.5 L296.3,80.7 L299.3,80.9 L302.4,81.1 L305.4,81.4 L308.4,81.6 L311.4,81.8 L314.4,82.0 L317.4,82.3 L320.4,82.5 L323.4,82.7 L326.4,83.0 L329.4,83.2 L332.4,83.5 L335.4,83.7 L338.4,84.0 L341.4,84.3 L344.4,84.5 L347.4,84.8 L350.4,85.1 L353.4,85.4 L356.4,85.6 L359.4,85.9 L362.4,86.2 L365.4,86.5 L368.4,86.8 L371.4,87.1 L374.4,87.4 L377.4,87.8 L380.4,88.1 L383.4,88.4 L386.4,88.7 L389.3,89.1 L392.3,89.4 L395.3,89.8 L398.3,90.1 L401.3,90.5 L404.3,90.9 L407.3,91.3 L410.3,91.6 L413.2,92.0 L416.2,92.4 L419.2,92.8 L422.2,93.2 L425.2,93.6 L428.2,94.1 L431.1,94.5 L434.1,94.9 L437.1,95.4 L440.1,95.8 L443.0,96.3 L446.0,96.7 L449.0,97.2 L452.0,97.7 L454.9,98.2 L457.9,98.7 L460.9,99.2 L463.9,99.7 L466.8,100.2 L469.8,100.7 L472.8,101.3 L475.7,101.8 L478.7,102.3 L481.7,102.9 L484.6,103.5 L487.6,104.1 L490.5,104.6 L493.5,105.2 L496.5,105.8 L499.4,106.4 L502.4,107.1 L505.3,107.7 L508.3,108.3 L511.2,109.0 L514.2,109.6 L517.1,110.3 L520.1,111.0 L523.0,111.7 L526.0,112.4 L528.9,113.1 L531.9,113.8 L534.8,114.5 L537.7,115.3 L540.7,116.0 L543.6,116.8 L546.6,117.5 L549.5,118.3 L552.4,119.1 L555.4,119.9 L558.3,120.7 L561.2,121.6 L564.1,122.4 L567.0,123.3 L569.9,124.2 L572.8,125.1 L575.7,126.0 L578.6,127.0 L581.4,127.9 L584.3,128.9 L587.1,129.9 L590.0,130.9 L592.8,132.0 L595.6,133.1 L598.4,134.2 L601.2,135.3 L603.9,136.5 L606.7,137.6 L609.4,138.8 L612.2,140.1 L614.9,141.4 L617.6,142.6 L620.2,144.0 L622.9,145.3 L625.5,146.7 L628.2,148.2 L630.8,149.6 L633.3,151.1 L635.9,152.6 L638.4,154.2 L641.0,155.8 L643.4,157.5 L645.9,159.1 L648.4,160.9 L650.8,162.6 L653.2,164.4 L655.5,166.2 L657.9,168.1 L660.2,170.0 L662.5,172.0 L664.8,174.0 L667.0,176.0 L669.2,178.1 L671.4,180.2 L673.5,182.3 L675.6,184.5 L677.7,186.7 L679.8,188.9 L681.8,191.2 L683.8,193.4 L685.7,195.8 L687.6,198.1 L689.5,200.5 L691.4,202.9 L693.2,205.3 L695.0,207.8 L696.7,210.3 L698.4,212.8 L700.1,215.3 L701.7,217.9 L703.3,220.5 L704.8,223.1 L706.4,225.7 L707.8,228.4 L709.3,231.1 L710.6,233.8 L712.0,236.5 L713.3,239.2 L714.6,242.0 L715.8,244.7 L717.0,247.5 L718.1,250.3 L719.2,253.1 L720.3,255.9 L721.3,258.7 L722.3,261.6 L723.3,264.4 L724.2,267.3 L725.1,270.2" fill="none" stroke="#000000" stroke-width="5.0" stroke-dasharray="15.163 6.065 2.641 5.869" stroke-dashoffset="0.0" stroke-linecap="butt" stroke-linejoin="round"/>
<path d="M726.4,269.4 L727.3,272.5 L728.1,275.5 L728.9,278.5 L729.6,281.5 L730.3,284.6 L730.9,287.6 L731.5,290.6 L732.0,293.6 L732.5,296.7 L732.9,299.7 L733.3,302.7 L733.6,305.7 L733.9,308.7 L734.1,311.8 L734.2,314.8 L734.4,317.8 L734.4,320.8 L734.5,323.8 L734.4,326.8 L734.4,329.8 L734.3,332.8 L734.1,335.8 L733.9,338.8 L733.7,341.8 L733.4,344.8 L733.1,347.8 L732.8,350.8 L732.4,353.8 L731.9,356.8 L731.5,359.8 L731.0,362.7 L730.4,365.7 L729.8,368.7 L729.2,371.6 L728.6,374.6 L727.9,377.5 L727.2,380.5 L726.5,383.4 L725.7,386.4 L724.9,389.3 L724.0,392.3 L723.2,395.2 L722.3,398.1 L721.4,401.0 L720.4,403.9 L719.5,406.8 L718.5,409.7 L717.5,412.6 L716.4,415.5 L715.3,418.4 L714.3,421.3 L713.2,424.1 L712.0,427.0 L710.9,429.8 L709.7,432.7 L708.5,435.5 L707.3,438.4 L706.1,441.2 L704.8,444.0 L703.6,446.8 L702.3,449.6 L701.0,452.4 L699.7,455.2 L698.4,458.0 L697.1,460.7 L695.8,463.5 L694.4,466.3 L693.1,469.0 L691.7,471.7 L690.3,474.5 L689.0,477.2 L687.6,479.9 L686.2,482.6 L684.8,485.3 L683.4,487.9 L682.0,490.6 L680.5,493.3 L679.1,495.9 L677.7,498.6 L676.3,501.2 L674.9,503.8 L673.5,506.4 L672.0,509.0 L670.6,511.6 L669.2,514.2 L667.8,516.7 L666.4,519.3 L665.0,521.8" fill="none" stroke="#000000" stroke-width="1.7" stroke-dasharray="15.3 5.6 2.9 5.8" stroke-dashoffset="13.6" stroke-linecap="butt" stroke-linejoin="round"/>
<path d="M664.0,522.0 L662.5,524.6 L660.9,527.3 L659.4,529.9 L657.8,532.5 L656.3,535.1 L654.7,537.7 L653.1,540.3 L651.5,542.9 L649.9,545.5 L648.3,548.1 L646.6,550.7 L645.0,553.3 L643.4,555.8 L641.7,558.4 L640.1,561.0 L638.4,563.5 L636.8,566.1 L635.1,568.6 L633.4,571.2 L631.7,573.7 L630.0,576.2 L628.3,578.8 L626.6,581.3 L624.9,583.8 L623.2,586.3 L621.5,588.8 L619.7,591.3 L618.0,593.8 L616.3,596.4 L614.5,598.8 L612.8,601.3 L611.0,603.8 L609.2,606.3 L607.5,608.8 L605.7,611.3 L603.9,613.8 L602.2,616.2 L600.4,618.7 L598.6,621.2 L596.8,623.6 L595.0,626.1 L593.2,628.6 L591.4,631.0 L589.6,633.5 L587.8,635.9 L586.0,638.4 L584.2,640.8 L582.3,643.3 L580.5,645.7 L578.7,648.2 L576.9,650.6 L575.0,653.1 L573.2,655.5 L571.4,657.9 L569.5,660.4 L567.7,662.8 L565.9,665.2 L564.0,667.7 L562.2,670.1 L560.4,672.5 L558.5,675.0 L556.7,677.4 L554.8,679.8 L553.0,682.2 L551.1,684.7 L549.3,687.1 L547.4,689.5 L545.6,692.0 L543.7,694.4 L541.9,696.8 L540.1,699.2 L538.2,701.7 L536.4,704.1 L534.5,706.5 L532.7,708.9 L530.8,711.4" fill="none" stroke="#000000" stroke-width="1.75" stroke-dasharray="2.9 5.7" stroke-dashoffset="2.9" stroke-linecap="butt" stroke-linejoin="round"/>
</g>
<g id="labels" opacity="0.999">
<text x="163.8" y="745.9" font-family="Liberation Sans, sans-serif" font-size="27.5" stroke="#000" stroke-width="0.35" text-anchor="middle" letter-spacing="0">8</text>
<text x="277.7" y="745.9" font-family="Liberation Sans, sans-serif" font-size="27.5" stroke="#000" stroke-width="0.35" text-anchor="middle" letter-spacing="1.7">8.5</text>
<text x="389.8" y="745.9" font-family="Liberation Sans, sans-serif" font-size="27.5" stroke="#000" stroke-width="0.35" text-anchor="middle" letter-spacing="0">9</text>
<text x="503.6" y="745.9" font-family="Liberation Sans, sans-serif" font-size="27.5" stroke="#000" stroke-width="0.35" text-anchor="middle" letter-spacing="1.7">9.5</text>
<text x="616.1" y="745.9" font-family="Liberation Sans, sans-serif" font-size="27.5" stroke="#000" stroke-width="0.35" text-anchor="middle" letter-spacing="1.0">10</text>
<text x="728.9" y="745.9" font-family="Liberation Sans, sans-serif" font-size="27.5" stroke="#000" stroke-width="0.35" text-anchor="middle" letter-spacing="0.6">10.5</text>
<text x="102.0" y="144.8" font-family="Liberation Sans, sans-serif" font-size="27.5" stroke="#000" stroke-width="0.35" text-anchor="end" letter-spacing="0">9</text>
<text x="103.7" y="350.8" font-family="Liberation Sans, sans-serif" font-size="27.5" stroke="#000" stroke-width="0.35" text-anchor="end" letter-spacing="1.7">8.5</text>
<text x="102.0" y="556.8" font-family="Liberation Sans, sans-serif" font-size="27.5" stroke="#000" stroke-width="0.35" text-anchor="end" letter-spacing="0">8</text>
<text x="364.2" y="782.5" font-family="Liberation Serif, serif" font-size="29" stroke="#000" stroke-width="0.5" textLength="40" lengthAdjust="spacingAndGlyphs" >log</text>
<text x="418" y="782.5" font-family="Liberation Serif, serif" font-size="29" stroke="#000" stroke-width="0.5" textLength="16" lengthAdjust="spacingAndGlyphs" font-style="italic">ρ</text>
<text x="450" y="782.5" font-family="Liberation Serif, serif" font-size="29" stroke="#000" stroke-width="0.5" >(</text>
<text x="460.3" y="782.5" font-family="Liberation Serif, serif" font-size="29" stroke="#000" stroke-width="0.5" textLength="15.5" lengthAdjust="spacingAndGlyphs" >g</text>
<text x="491" y="782.5" font-family="Liberation Serif, serif" font-size="29" stroke="#000" stroke-width="0.5" textLength="43.5" lengthAdjust="spacingAndGlyphs" >cm</text>
<text x="536" y="773.2" font-family="Liberation Sans, sans-serif" font-size="19" font-weight="bold">−</text>
<text x="550" y="775.2" font-family="Liberation Sans, sans-serif" font-size="20.5" stroke="#000" stroke-width="0.6" textLength="12.6" lengthAdjust="spacingAndGlyphs">3</text>
<text x="563.3" y="782.5" font-family="Liberation Serif, serif" font-size="29" stroke="#000" stroke-width="0.5" >)</text>
<g transform="translate(40.3,424.5) rotate(-90)"><text x="0" y="0" font-family="Liberation Serif, serif" font-size="29" stroke="#000" stroke-width="0.5" textLength="40" lengthAdjust="spacingAndGlyphs" >log</text><text x="53.4" y="0" font-family="Liberation Serif, serif" font-size="29" stroke="#000" stroke-width="0.5" textLength="14.6" lengthAdjust="spacingAndGlyphs" font-style="italic">T</text><text x="86.2" y="0" font-family="Liberation Serif, serif" font-size="29" stroke="#000" stroke-width="0.5" >(</text><text x="96.6" y="0" font-family="Liberation Serif, serif" font-size="29" stroke="#000" stroke-width="0.5" textLength="18.3" lengthAdjust="spacingAndGlyphs" >K</text><text x="116.2" y="0" font-family="Liberation Serif, serif" font-size="29" stroke="#000" stroke-width="0.5" >)</text></g>
<text x="481.4" y="86.7" font-family="Liberation Mono, monospace" font-size="22.5" font-weight="bold" textLength="22.4" lengthAdjust="spacingAndGlyphs">16</text>
<text transform="translate(504.6,94.5) scale(0.80,1)" font-family="Liberation Sans, sans-serif" font-size="28.6" stroke="#000" stroke-width="0.8">O</text>
<text x="532.2" y="95.6" font-family="Liberation Sans, sans-serif" font-size="29.5" stroke="#000" stroke-width="0.3">+</text>
<text x="553.3" y="86.7" font-family="Liberation Mono, monospace" font-size="22.5" font-weight="bold" textLength="22.4" lengthAdjust="spacingAndGlyphs">16</text>
<text transform="translate(577.0,94.5) scale(0.80,1)" font-family="Liberation Sans, sans-serif" font-size="28.6" stroke="#000" stroke-width="0.8">O</text>
<text x="165.6" y="242.9" font-family="Liberation Mono, monospace" font-size="22.5" font-weight="bold" textLength="22.4" lengthAdjust="spacingAndGlyphs">12</text>
<text x="187.6" y="251.3" font-family="Liberation Serif, serif" font-size="29.5" textLength="17.6" lengthAdjust="spacingAndGlyphs" stroke="#000" stroke-width="0.5">C</text>
<text x="207.9" y="253.2" font-family="Liberation Sans, sans-serif" font-size="29.5" stroke="#000" stroke-width="0.3">+</text>
<text x="230.1" y="242.9" font-family="Liberation Mono, monospace" font-size="22.5" font-weight="bold" textLength="22.4" lengthAdjust="spacingAndGlyphs">12</text>
<text x="251.7" y="251.3" font-family="Liberation Serif, serif" font-size="29.5" textLength="17.6" lengthAdjust="spacingAndGlyphs" stroke="#000" stroke-width="0.5">C</text>
</g>
<g id="legend" opacity="0.999">
<path d="M163.7,504.5 H254.2" stroke="#ff0000" stroke-width="1.7" fill="none"/>
<path d="M163.7,546.6 H252.5" stroke="#0000ff" stroke-width="1.7" fill="none" stroke-dasharray="37.7 12"/>
<path d="M163.7,588.1 H254.2" stroke="#000000" stroke-width="1.7" fill="none" stroke-dasharray="15.3 5.6 2.9 5.8" stroke-dashoffset="20.9"/>
<path d="M163.7,629.7 H254.2" stroke="#b40096" stroke-width="2.2" fill="none" stroke-dasharray="15.4 11.5"/>
<text x="266.8" y="510.7" font-family="Liberation Serif, serif" font-size="28.5" fill="#ff0000" stroke="#ff0000" stroke-width="0.45" textLength="52.5" lengthAdjust="spacingAndGlyphs" >this</text>
<text x="335" y="510.7" font-family="Liberation Serif, serif" font-size="28.5" fill="#ff0000" stroke="#ff0000" stroke-width="0.45" textLength="67.5" lengthAdjust="spacingAndGlyphs" >work</text>
<text x="266.8" y="552.2" font-family="Liberation Serif, serif" font-size="30" fill="#0000ff" stroke="#0000ff" stroke-width="0.45" textLength="51.5" lengthAdjust="spacingAndGlyphs" >LMR</text>
<text x="335.5" y="552.2" font-family="Liberation Serif, serif" font-size="30" fill="#0000ff" stroke="#0000ff" stroke-width="0.45" textLength="75.5" lengthAdjust="spacingAndGlyphs" >(OCP)</text>
<text x="264.9" y="594.1" font-family="Liberation Serif, serif" font-size="30" fill="#000000" stroke="#000000" stroke-width="0.45" textLength="53.8" lengthAdjust="spacingAndGlyphs" >SVH</text>
<text x="264.9" y="634.4" font-family="Liberation Serif, serif" font-size="30" fill="#b40096" stroke="#b40096" stroke-width="0.45" textLength="34.2" lengthAdjust="spacingAndGlyphs" >SC</text>
</g>
</svg>
</body></html>
